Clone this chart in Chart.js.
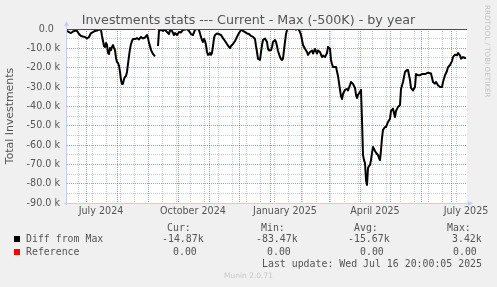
<!DOCTYPE html>
<html>
<head>
<meta charset="utf-8">
<script src="https://cdn.jsdelivr.net/npm/chart.js@4.4.1/dist/chart.umd.min.js"></script>
<style>
  body { margin: 0; background: #f0f0f0; }
  #wrap { position: relative; width: 497px; height: 287px; overflow: hidden; }
  canvas { position: absolute; left: 0; top: 0; }
  .txt { position: absolute; white-space: pre; color: #555; line-height: 12px; }
  .mono { font-family: "DejaVu Sans Mono", monospace; font-size: 9.9px; }
  .box { position: absolute; width: 6px; height: 6px; }
</style>
</head>
<body>
<div id="wrap">
  <canvas id="chart" width="497" height="287"></canvas>
  <div class="txt" id="title" style="left:0;top:12px;width:497px;text-align:center;font-family:'DejaVu Sans';font-size:12.7px;line-height:normal;">Investments stats --- Current - Max (-500K) - by year</div>
  <div class="txt" style="left:482px;top:5px;font-family:'DejaVu Sans';font-size:7.2px;color:#c4c4c4;writing-mode:vertical-rl;line-height:10px;">RRDTOOL / TOBI OETIKER</div>

  <div class="txt mono" style="left:167px;top:222px;">Cur:</div>
  <div class="txt mono" style="left:261px;top:222px;">Min:</div>
  <div class="txt mono" style="left:354px;top:222px;">Avg:</div>
  <div class="txt mono" style="left:447px;top:222px;">Max:</div>

  <div class="box" style="left:14px;top:236px;background:#000;"></div>
  <div class="txt mono" style="left:26px;top:233px;">Diff from Max</div>
  <div class="txt mono" id="diffCur" style="left:162px;top:233px;"></div>
  <div class="txt mono" id="diffMin" style="left:256px;top:233px;"></div>
  <div class="txt mono" id="diffAvg" style="left:348px;top:233px;"></div>
  <div class="txt mono" id="diffMax" style="left:452px;top:233px;"></div>

  <div class="box" style="left:14px;top:249px;background:#ff0000;"></div>
  <div class="txt mono" style="left:26px;top:246px;">Reference</div>
  <div class="txt mono" style="left:173px;top:246px;">0.00</div>
  <div class="txt mono" style="left:267px;top:246px;">0.00</div>
  <div class="txt mono" style="left:360px;top:246px;">0.00</div>
  <div class="txt mono" style="left:453px;top:246px;">0.00</div>

  <div class="txt mono" style="left:262px;top:258px;">Last update: Wed Jul 16 20:00:05 2025</div>
  <div class="txt" style="left:0;top:271px;width:497px;text-align:center;font-family:'DejaVu Sans';font-size:7.5px;color:#c8c8c8;line-height:10px;">Munin 2.0.71</div>
</div>
<script>
// x values are days counted from 12 Jun 2024 (one pixel per day, 400 days shown)
const diffDays = [
  0, 2, 4, 6, 8, 10, 12, 14, 16, 18, 20, 22, 24, 26, 28, 30, 32, 34, 35, 37, 38, 39, 40, 41, 42, 43, 44, 45, 46, 47, 48,
  49, 50, 51, 52, 53, 54, 55, 56, 57, 58, 59, 60, 61, 62, 63, 64, 65, 66, 68, 70, 72, 74, 76, 78, 80, 81, 82, 83, 84, 86, 88,
  89,
  91, 92, 94, 96, 98, 100, 102, 103, 105, 107, 108, 110, 112, 114, 116, 118, 120, 122, 124, 126, 128, 130, 132, 134, 135,
  136, 137, 138, 139, 140, 141, 142, 143, 144, 145, 146, 147, 148, 150, 152, 154, 156, 158, 160, 162, 163, 164, 166, 168,
  170, 172, 174, 176, 178, 180, 182, 184, 186, 188, 189, 190, 191, 193, 194, 195, 196, 198, 200, 201, 202, 204, 205, 206,
  208, 209, 210, 211, 213, 214, 215, 216, 217, 218, 219, 220, 221, 224, 226, 229, 231, 232, 233, 234, 235, 236, 238, 240,
  241, 243, 245, 246, 248, 250, 251, 253, 255, 256, 258, 260, 261, 263, 264, 265, 266, 269, 271, 273, 274, 275, 276, 278,
  280, 281, 283, 284, 286, 288, 289, 290, 291, 293, 294, 295, 296, 297, 298, 299, 300, 301, 302, 303, 304, 305, 306, 307,
  308, 310, 311, 312, 313, 314, 315, 316, 318, 319, 321, 323, 324, 326, 327, 328, 329, 331, 333, 334, 336, 338, 340, 341,
  343, 344, 346, 348, 349, 351, 353, 355, 358, 361, 364, 366, 368, 369, 371, 373, 375, 376, 378, 380, 381, 383, 385, 386,
  388, 390, 391, 393, 394, 396, 398, 399
];
const diffValues = [
  -1.0, -1.6, -2.1, -1.3, -0.8, -1.0, -2.6, -3.6, -3.9, -4.1, -4.9, -4.1, -2.1, -1.6, -1.0, -0.8, -0.3, -0.5, -3.6, -8.8, -9.3, -7.2, -8.3, -12.4, -12.9, -9.8, -10.9, -9.3, -8.3, -9.8, -10.9,
  -15.0, -17.1, -17.6, -19.1, -22.2, -26.4, -28.4, -28.4, -25.9, -24.8, -24.3, -22.2, -18.1, -14.0, -10.3, -7.8, -6.2, -5.2, -5.2, -4.7, -5.4, -4.1, -4.9, -4.4, -3.1, -4.7, -7.2, -8.8, -10.9, -12.9, -14.2,
  null,
  -8.8, -1.0, -0.5, -1.0, -0.3, -1.6, -2.6, -0.5, -1.0, -3.1, -2.1, -3.1, -1.6, -1.8, -0.5, -0.3, 0.0, -1.0, -2.6, -3.1, -0.5, 0.3, -0.5, -4.1, -5.7,
  -6.7, -5.2, -6.2, -8.3, -11.9, -13.4, -12.9, -12.4, -13.4, -12.4, -8.8, -4.7, -3.1, -2.3, -2.6, -3.1, -4.7, -6.2, -7.8, -9.3, -9.8, -8.8, -7.8, -6.2,
  -4.1, -2.1, -0.5, -1.0, -1.6, -2.3, -2.6, -3.6, -4.1, -5.2, -8.8, -11.9, -15.5, -16.0, -11.9, -8.3, -5.7, -4.9, -6.7, -10.3, -11.1, -10.9, -9.3, -6.7,
  -5.7, -6.7, -8.8, -11.4, -14.5, -15.5, -16.0, -15.3, -10.9, -6.7, -2.6, -0.5, 0.6, 0.2, 0.6, -0.3, 0.2, -0.5, -1.6, -3.1, -5.7, -8.3, -10.2, -11.9,
  -13.4, -11.9, -11.1, -12.7, -10.3, -12.7, -11.1, -11.9, -14.5, -13.7, -14.5, -12.4, -9.3, -10.2, -16.0, -18.1, -19.7, -19.7, -24.3, -31.5, -34.7, -36.2, -33.6, -31.5,
  -31.0, -31.8, -29.0, -27.4, -28.4, -30.5, -34.1, -35.7, -34.1, -32.6, -31.5, -47.1, -65.2, -67.8, -69.3, -78.1, -80.7, -71.9, -70.9, -70.3, -67.8, -64.1, -61.0, -62.1,
  -63.1, -64.7, -65.2, -66.7, -67.8, -62.6, -56.4, -52.2, -50.7, -50.7, -48.1, -46.4, -42.4, -41.2, -43.4, -45.5, -42.4, -40.3, -39.3, -31.0, -27.4, -22.2, -21.2, -21.2,
  -26.4, -30.5, -31.8, -30.0, -23.3, -23.9, -23.9, -23.3, -23.3, -22.6, -23.0, -27.4, -28.3, -27.4, -29.1, -30.0, -30.0, -27.4, -23.9, -21.7, -19.7, -18.6, -16.6, -14.5,
  -13.3, -13.6, -12.4, -13.6, -15.4, -14.5, -15.0, -14.9
];
const refDays = [0, 88, 89, 91, 400];
const refValues = [0, 0, null, 0, 0];

// legend statistics (as printed under the graph)
const diffStats = { cur: '-14.87k', min: '-83.47k', avg: '-15.67k', max: '3.42k' };

// axis ticks
const monthDays = [19, 50, 81, 111, 142, 172, 203, 234, 262, 293, 323, 354, 384];
const labelDays = [34, 126, 218, 308, 399];
const labelNames = ['July 2024', 'October 2024', 'January 2025', 'April 2025', 'July 2025'];
const yMin = -90, yMax = 0;

document.getElementById('diffCur').textContent = diffStats.cur;
document.getElementById('diffMin').textContent = diffStats.min;
document.getElementById('diffAvg').textContent = diffStats.avg;
document.getElementById('diffMax').textContent = diffStats.max;

const majorColor = 'rgba(255,0,0,0.5)';
const minorColor = 'rgba(120,120,120,0.4)';
const axisColor = '#c6cdf4';

// minor vertical grid every second week
const minorDays = [];
for (let d = 11; d < 400; d += 14) minorDays.push(d);

const xTickValues = Array.from(new Set([...monthDays, ...minorDays, ...labelDays])).sort((a, b) => a - b);

const plotDecor = {
    id: 'plotDecor',
    beforeDraw(chart) {
        const { ctx, chartArea: a } = chart;
        ctx.save();
        ctx.fillStyle = '#ffffff';
        ctx.fillRect(a.left, a.top, a.right - a.left, a.bottom - a.top);
        ctx.restore();
    },
    afterDraw(chart) {
        const { ctx, chartArea: a } = chart;
        ctx.save();
        ctx.strokeStyle = axisColor;
        ctx.fillStyle = axisColor;
        ctx.lineWidth = 1;
        ctx.beginPath();
        ctx.moveTo(a.left - 0.5, a.bottom + 2);
        ctx.lineTo(a.left - 0.5, a.top - 4);
        ctx.moveTo(a.left - 3, a.bottom + 0.5);
        ctx.lineTo(a.right + 2, a.bottom + 0.5);
        ctx.stroke();
        // arrows
        ctx.beginPath();
        ctx.moveTo(a.left - 3, a.top - 3);
        ctx.lineTo(a.left + 2, a.top - 3);
        ctx.lineTo(a.left - 0.5, a.top - 8);
        ctx.closePath();
        ctx.fill();
        ctx.beginPath();
        ctx.moveTo(a.right + 1, a.bottom - 2);
        ctx.lineTo(a.right + 1, a.bottom + 3);
        ctx.lineTo(a.right + 6, a.bottom + 0.5);
        ctx.closePath();
        ctx.fill();
        ctx.restore();
    }
};

const tickFont = { family: 'DejaVu Sans', size: 9.6 };

new Chart(document.getElementById('chart').getContext('2d'), {
    type: 'line',
    data: {
        datasets: [{
            label: 'Reference',
            data: refDays.map((d, i) => ({ x: d, y: refValues[i] })),
            borderColor: '#ff0000',
            borderWidth: 2,
            pointRadius: 0,
            spanGaps: false,
            order: 0
        }, {
            label: 'Diff from Max',
            data: diffDays.map((d, i) => ({ x: d, y: diffValues[i] })),
            borderColor: '#000000',
            borderWidth: 2,
            borderJoinStyle: 'round',
            pointRadius: 0,
            tension: 0,
            spanGaps: false,
            order: 1
        }]
    },
    options: {
        animation: false,
        responsive: false,
        devicePixelRatio: 1,
        layout: { padding: { left: 0, right: 30, top: 29, bottom: 0 } },
        plugins: {
            legend: { display: false },
            tooltip: { enabled: false }
        },
        scales: {
            x: {
                type: 'linear',
                min: 0,
                max: 400,
                afterBuildTicks: (scale) => {
                    scale.ticks = xTickValues.map(v => ({ value: v }));
                },
                afterFit: (scale) => { scale.height = 84; },
                grid: {
                    drawTicks: false,
                    color: (ctx) => {
                        const v = ctx.tick ? ctx.tick.value : null;
                        if (monthDays.includes(v)) return majorColor;
                        if (minorDays.includes(v)) return minorColor;
                        return 'rgba(0,0,0,0)';
                    }
                },
                border: { display: false, dash: [1, 1] },
                ticks: {
                    autoSkip: false,
                    maxRotation: 0,
                    minRotation: 0,
                    padding: 3,
                    color: '#555',
                    font: tickFont,
                    callback: (value) => {
                        const i = labelDays.indexOf(value);
                        return i >= 0 ? labelNames[i] : '';
                    }
                }
            },
            y: {
                type: 'linear',
                min: yMin,
                max: yMax,
                afterBuildTicks: (scale) => {
                    const t = [];
                    for (let v = yMin; v <= yMax; v += 5) t.push({ value: v });
                    scale.ticks = t;
                },
                afterFit: (scale) => { scale.width = 67; },
                grid: {
                    drawTicks: false,
                    color: (ctx) => {
                        const v = ctx.tick ? ctx.tick.value : 0;
                        return v % 10 === 0 ? majorColor : minorColor;
                    }
                },
                border: { display: false, dash: [1, 1] },
                title: {
                    display: true,
                    text: 'Total Investments',
                    color: '#555',
                    font: { family: 'DejaVu Sans', size: 10.9 },
                    padding: { top: 4, bottom: 0 }
                },
                ticks: {
                    autoSkip: false,
                    padding: 7,
                    color: '#555',
                    font: tickFont,
                    callback: (value) => {
                        if (value % 10 !== 0) return '';
                        return value === 0 ? '0.0  ' : value.toFixed(1) + ' k';
                    }
                }
            }
        }
    },
    plugins: [plotDecor]
});
</script>
</body>
</html>
